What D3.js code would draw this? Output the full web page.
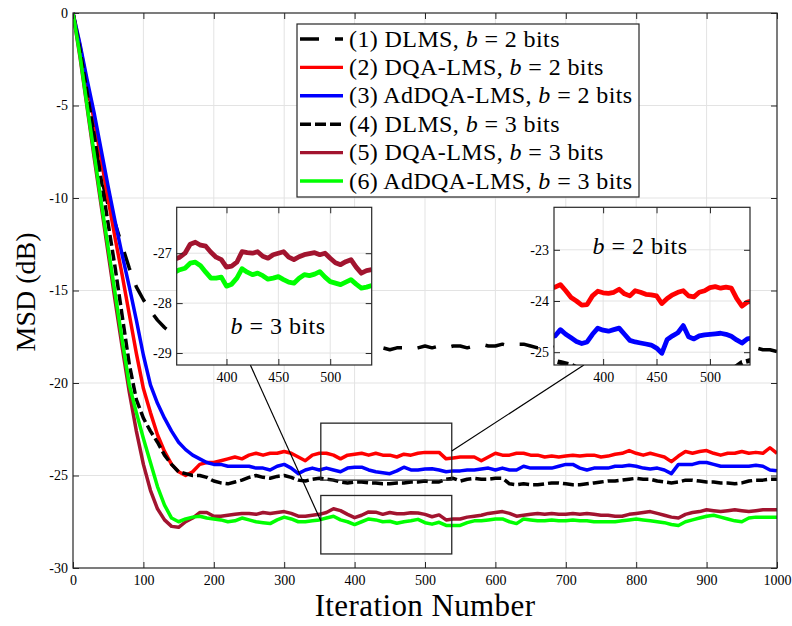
<!DOCTYPE html>
<html>
<head>
<meta charset="utf-8">
<script src="https://cdn.jsdelivr.net/npm/d3@7"></script>
<style>
  body { margin: 0; background: #fff; }
  text { font-family: "Liberation Serif", "DejaVu Serif", serif; fill: #000; }
</style>
</head>
<body>
<svg id="chart" width="792" height="626"></svg>
<script>
// iteration grid of the main curves (every 10 iterations)
const iter = d3.range(0, 1001, 10);

// (1) DLMS, b = 2
const dlms2 = [0, -2.1, -4.4, -6.7, -8.9, -10.4, -11.4, -12.6, -13.8, -14.8, -15.5, -16.1, -16.6, -17.0, -17.3, -17.5, -17.7, -17.8, -17.9, -18.0, -18.0,
  -18.1, -18.0, -18.1, -18.2, -18.1, -18.2, -18.1, -18.2, -18.3, -18.2,
  -18.1, -18.2, -18.2, -18.3, -18.2, -18.1, -18.2, -18.3, -18.2, -18.2,
  -18.3, -18.2, -18.2, -18.1, -18.2, -18.1, -18.1, -18.2, -18.1, -18.0,
  -18.1, -18.0, -18.1, -18.0, -18.0, -18.1, -18.0, -17.9, -18.0, -18.0,
  -17.9, -18.0, -17.9, -17.9, -18.0, -18.1, -18.0, -18.1, -18.0, -17.9,
  -18.0, -18.0, -17.9, -18.0, -18.0, -18.1, -18.0, -18.0, -18.1, -18.0,
  -18.1, -18.0, -18.1, -18.1, -18.0, -18.1, -18.2, -18.1, -18.1, -18.2,
  -18.1, -18.2, -18.2, -18.1, -18.2, -18.2, -18.1, -18.2, -18.2, -18.3];

// (2) DQA-LMS, b = 2
const dqa2 = [0, -1.8, -3.8, -5.8, -7.9, -10.1, -12.2, -14.2, -16.3, -18.4, -20.3, -21.6, -22.8, -23.7, -24.4, -24.8, -25.0, -24.8, -24.4, -24.3, -24.3,
  -24.2, -24.1, -24.0, -24.1, -23.9, -23.8, -23.9, -23.8, -23.8, -23.7,
  -23.8, -24.0, -24.2, -23.9, -23.8, -23.8, -23.9, -24.1, -23.9, -23.85,
  -23.8, -23.9, -23.8, -23.9, -23.9, -24.0, -23.85, -23.9, -23.8, -23.75,
  -23.75, -23.75, -24.1, -24.05, -24.0, -24.0, -24.0, -24.2, -24.0, -23.8,
  -23.9, -23.9, -23.8, -23.8, -23.9, -23.9, -24.0, -23.95, -24.0, -23.95,
  -23.9, -23.95, -23.9, -23.9, -24.0, -23.95, -23.85, -23.8, -23.65, -23.8,
  -23.9, -23.8, -23.9, -24.0, -24.25, -23.95, -23.7, -23.8, -23.7, -23.65,
  -23.8, -23.9, -23.8, -23.8, -23.7, -23.8, -23.75, -23.8, -23.5, -23.8];

// (3) AdDQA-LMS, b = 2
const adq2 = [0, -1.7, -3.6, -5.4, -7.4, -9.4, -11.3, -13.1, -14.8, -16.6, -18.5, -20.1, -21.1, -21.9, -22.6, -23.2, -23.6, -23.9, -24.1, -24.3, -24.4,
  -24.4, -24.5, -24.5, -24.5, -24.5, -24.6, -24.6, -24.7, -24.5, -24.4,
  -24.6, -24.9, -24.7, -24.6, -24.7, -24.6, -24.7, -24.8, -24.6, -24.55,
  -24.55, -24.7, -24.8, -24.85, -24.9, -24.75, -24.55, -24.7, -24.7, -24.65,
  -24.63, -24.7, -24.8, -24.75, -24.75, -24.7, -24.7, -24.65, -24.6, -24.7,
  -24.6, -24.7, -24.7, -24.5, -24.6, -24.6, -24.6, -24.6, -24.5, -24.4,
  -24.4, -24.6, -24.7, -24.6, -24.6, -24.6, -24.5, -24.5, -24.45, -24.5,
  -24.6, -24.65, -24.6, -24.7, -24.9, -24.4, -24.4, -24.4, -24.3, -24.3,
  -24.4, -24.5, -24.5, -24.5, -24.5, -24.5, -24.45, -24.5, -24.7, -24.75];

// (4) DLMS, b = 3
const dlms3 = [0, -2.0, -4.3, -6.6, -9.0, -11.4, -13.8, -16.4, -19.0, -20.9, -21.9, -22.6, -23.2, -23.9, -24.4, -24.8, -24.9, -25.0, -25.0, -25.1, -25.3,
  -25.4, -25.45, -25.35, -25.25, -25.1, -25.0, -25.1, -25.15, -25.05, -25.0,
  -25.1, -25.25, -25.3, -25.2, -25.15, -25.2, -25.25, -25.35, -25.4, -25.35,
  -25.35, -25.4, -25.4, -25.45, -25.45, -25.4, -25.4, -25.35, -25.35, -25.3,
  -25.35, -25.35, -25.2, -25.15, -25.3, -25.2, -25.15, -25.2, -25.2, -25.15,
  -25.15, -25.45, -25.5, -25.45, -25.5, -25.5, -25.45, -25.4, -25.4, -25.45,
  -25.5, -25.5, -25.45, -25.4, -25.35, -25.3, -25.3, -25.25, -25.2, -25.15,
  -25.2, -25.2, -25.3, -25.35, -25.4, -25.35, -25.25, -25.25, -25.3, -25.35,
  -25.35, -25.4, -25.4, -25.45, -25.4, -25.3, -25.25, -25.25, -25.2, -25.2];

// (5) DQA-LMS, b = 3
const dqa3 = [0, -2.4, -5.1, -7.8, -10.4, -13.0, -15.6, -18.1, -20.5, -22.6, -24.4, -25.8, -26.8, -27.4, -27.75, -27.8, -27.5, -27.3, -27.0, -27.0, -27.2,
  -27.2, -27.15, -27.1, -27.05, -27.05, -27.1, -27.0, -27.05, -27.0, -26.95,
  -27.05, -27.2, -27.2, -27.15, -27.1, -27.0, -26.8, -26.9, -27.1, -27.28,
  -27.15, -26.97, -26.98, -27.1, -27.0, -27.07, -27.07, -27.01, -27.03, -27.1,
  -27.23, -27.13, -27.4, -27.35, -27.35, -27.25, -27.2, -27.15, -27.05, -27.0,
  -26.95, -27.05, -27.2, -27.15, -27.1, -27.05, -27.1, -27.05, -27.1, -27.1,
  -27.05, -27.1, -27.05, -27.1, -27.15, -27.15, -27.2, -27.2, -27.1, -27.05,
  -27.0, -26.95, -27.05, -27.15, -27.25, -27.3, -27.1, -27.0, -26.95, -26.85,
  -26.9, -26.95, -26.9, -26.85, -26.9, -26.95, -26.9, -26.85, -26.85, -26.85];

// (6) AdDQA-LMS, b = 3
const adq3 = [0, -2.3, -5.0, -7.6, -10.2, -12.7, -15.2, -17.7, -20.1, -21.6, -23.0, -24.3, -25.6, -26.6, -27.3, -27.5, -27.35, -27.25, -27.2, -27.3, -27.35,
  -27.4, -27.5, -27.45, -27.3, -27.4, -27.5, -27.55, -27.6, -27.4, -27.25,
  -27.35, -27.5, -27.5, -27.45, -27.4, -27.3, -27.2, -27.4, -27.5, -27.65,
  -27.5, -27.35, -27.4, -27.5, -27.47, -27.58, -27.5, -27.45, -27.37, -27.55,
  -27.63, -27.53, -27.7, -27.7, -27.7, -27.55, -27.45, -27.45, -27.4, -27.35,
  -27.35, -27.5, -27.6, -27.35, -27.4, -27.45, -27.45, -27.4, -27.45, -27.45,
  -27.4, -27.45, -27.45, -27.5, -27.5, -27.5, -27.5, -27.45, -27.4, -27.35,
  -27.4, -27.45, -27.5, -27.55, -27.65, -27.7, -27.5, -27.4, -27.3, -27.2,
  -27.15, -27.25, -27.35, -27.45, -27.5, -27.3, -27.25, -27.25, -27.25, -27.25];

// finer samples shown in the two zoom insets (every 5 iterations, 350..540)
const zoomIter = d3.range(350, 541, 5);
const dqa3Zoom = [-27.12, -27.08, -27.0, -26.82, -26.78, -26.84, -26.86, -26.98, -27.08, -27.13, -27.28, -27.26, -27.18, -26.97, -26.99, -27.0, -26.97, -27.06, -27.1, -27.03,
  -27.0, -26.97, -27.08, -27.13, -27.07, -27.03, -27.01, -26.99, -27.03, -27.0, -27.1, -27.19, -27.23, -27.17, -27.13, -27.28, -27.4, -27.35, -27.33];
const adq3Zoom = [-27.38, -27.33, -27.3, -27.2, -27.18, -27.25, -27.38, -27.5, -27.5, -27.48, -27.66, -27.62, -27.5, -27.31, -27.38, -27.43, -27.4, -27.45, -27.52, -27.5,
  -27.47, -27.53, -27.58, -27.6, -27.5, -27.43, -27.45, -27.42, -27.37, -27.48, -27.57, -27.6, -27.63, -27.58, -27.53, -27.62, -27.7, -27.68, -27.65];
const dqa2Zoom = [-23.75, -23.73, -23.68, -23.8, -23.93, -24.0, -24.08, -24.07, -23.9, -23.81, -23.84, -23.85, -23.83, -23.77, -23.86, -23.9, -23.8, -23.83, -23.87, -23.88,
  -23.9, -24.05, -23.95, -23.88, -23.83, -23.8, -23.9, -23.92, -23.83, -23.8, -23.74, -23.72, -23.75, -23.73, -23.75, -23.95, -24.1, -24.02, -24.0];
const adq2Zoom = [-24.7, -24.68, -24.56, -24.65, -24.72, -24.79, -24.83, -24.8, -24.65, -24.53, -24.57, -24.59, -24.56, -24.53, -24.65, -24.77, -24.8, -24.82, -24.84, -24.86,
  -24.92, -25.02, -24.75, -24.68, -24.62, -24.48, -24.7, -24.74, -24.68, -24.66, -24.65, -24.64, -24.63, -24.65, -24.69, -24.76, -24.82, -24.74, -24.72];

// ticks and labels
const xTicks = [0, 100, 200, 300, 400, 500, 600, 700, 800, 900, 1000];
const yTicks = [0, -5, -10, -15, -20, -25, -30];
const insetXTicks = [400, 450, 500];
const inset1YTicks = [-27, -28, -29];
const inset2YTicks = [-23, -24, -25];
const legendNames = ["(1) DLMS, ", "(2) DQA-LMS, ", "(3) AdDQA-LMS, ", "(4) DLMS, ", "(5) DQA-LMS, ", "(6) AdDQA-LMS, "];
const legendBits = [2, 2, 2, 3, 3, 3];

const series = [
  {values: dlms2, color: "#000000", dash: "19,16"},
  {values: dqa2, color: "#ff0000", dash: null},
  {values: adq2, color: "#0000ff", dash: null},
  {values: dlms3, color: "#000000", dash: "11,4"},
  {values: dqa3, color: "#a2142f", dash: null},
  {values: adq3, color: "#00ff00", dash: null}
];

const svg = d3.select("#chart");
const axisColor = "#262626";
const gridColor = "#e3e3e3";

// main axes
const x = d3.scaleLinear().domain([0, 1000]).range([73, 777]);
const y = d3.scaleLinear().domain([-30, 0]).range([568, 13]);

svg.append("clipPath").attr("id", "clipMain")
  .append("rect").attr("x", 73).attr("y", 11).attr("width", 704).attr("height", 557);

function drawGrid(g, xs, ys, xt, yt) {
  g.selectAll(null).data(xt).enter().append("line")
    .attr("x1", d => xs(d)).attr("x2", d => xs(d))
    .attr("y1", ys.range()[0]).attr("y2", ys.range()[1])
    .attr("stroke", gridColor).attr("stroke-width", 1);
  g.selectAll(null).data(yt).enter().append("line")
    .attr("y1", d => ys(d)).attr("y2", d => ys(d))
    .attr("x1", xs.range()[0]).attr("x2", xs.range()[1])
    .attr("stroke", gridColor).attr("stroke-width", 1);
}

function drawAxes(g, xs, ys, xt, yt, fontSize) {
  const [x0, x1] = xs.range();
  const [y0, y1] = ys.range();
  const fmt = d => String(d);
  const bottom = g.append("g").attr("transform", `translate(0,${y0})`)
    .call(d3.axisBottom(xs).tickValues(xt).tickSizeInner(-6).tickSizeOuter(0).tickPadding(7).tickFormat(fmt));
  const left = g.append("g").attr("transform", `translate(${x0},0)`)
    .call(d3.axisLeft(ys).tickValues(yt).tickSizeInner(-6).tickSizeOuter(0).tickPadding(5).tickFormat(fmt));
  const top = g.append("g").attr("transform", `translate(0,${y1})`)
    .call(d3.axisTop(xs).tickValues(xt).tickSizeInner(-6).tickSizeOuter(0).tickFormat(""));
  const right = g.append("g").attr("transform", `translate(${x1},0)`)
    .call(d3.axisRight(ys).tickValues(yt).tickSizeInner(-6).tickSizeOuter(0).tickFormat(""));
  [bottom, left, top, right].forEach(a => {
    a.select(".domain").remove();
    a.selectAll("line").attr("stroke", axisColor).attr("stroke-width", 1);
    a.selectAll("text").attr("font-size", fontSize)
      .attr("font-family", "'Liberation Serif', serif").attr("fill", "#000");
  });
  g.append("rect").attr("x", x0).attr("y", y1).attr("width", x1 - x0).attr("height", y0 - y1)
    .attr("fill", "none").attr("stroke", axisColor).attr("stroke-width", 1.2);
}

function drawLine(g, xsData, ysData, xs, ys, s, width, clip) {
  const line = d3.line().x((d, i) => xs(xsData[i])).y(d => ys(d));
  g.append("path").datum(ysData)
    .attr("clip-path", `url(#${clip})`)
    .attr("fill", "none")
    .attr("stroke", s.color)
    .attr("stroke-width", width)
    .attr("stroke-linejoin", "round")
    .attr("stroke-dasharray", s.dash)
    .attr("d", line);
}

const main = svg.append("g");
drawGrid(main, x, y, xTicks.slice(1, -1), yTicks.slice(1, -1));
series.forEach(s => drawLine(main, iter, s.values, x, y, s, 3.5, "clipMain"));
drawAxes(main, x, y, xTicks, yTicks, 14);

// axis titles
svg.append("text").attr("x", 425).attr("y", 616).attr("text-anchor", "middle")
  .attr("font-size", 31).attr("letter-spacing", 0.4).text("Iteration Number");
svg.append("text").attr("transform", "translate(35,292) rotate(-90)").attr("text-anchor", "middle")
  .attr("font-size", 28).text("MSD (dB)");

// zoomed regions
const zoomX = [352, 538];
const zoomUpper = [-25.25, -22.17];
const zoomLower = [-29.24, -26.08];
[zoomUpper, zoomLower].forEach(r => {
  svg.append("rect")
    .attr("x", x(zoomX[0])).attr("y", y(r[1]))
    .attr("width", x(zoomX[1]) - x(zoomX[0])).attr("height", y(r[0]) - y(r[1]))
    .attr("fill", "none").attr("stroke", axisColor).attr("stroke-width", 1.3);
});

// insets
const inset1 = {
  x: d3.scaleLinear().domain([352, 540]).range([176.7, 371.7]),
  y: d3.scaleLinear().domain(zoomLower).range([365, 207.3]),
  yt: inset1YTicks, id: "clipIn1"
};
const inset2 = {
  x: d3.scaleLinear().domain([354, 537.5]).range([554, 750]),
  y: d3.scaleLinear().domain(zoomUpper).range([365, 207.3]),
  yt: inset2YTicks, id: "clipIn2"
};

// connector lines
svg.append("line")
  .attr("x1", x(352)).attr("y1", y(-27.45))
  .attr("x2", inset1.x(423)).attr("y2", inset1.y.range()[0])
  .attr("stroke", "#000").attr("stroke-width", 1.2);
svg.append("line")
  .attr("x1", x(538)).attr("y1", y(-23.68))
  .attr("x2", inset2.x(382)).attr("y2", inset2.y.range()[0])
  .attr("stroke", "#000").attr("stroke-width", 1.2);

[inset1, inset2].forEach(ins => {
  const [x0, x1] = ins.x.range();
  const [y0, y1] = ins.y.range();
  const g = svg.append("g");
  svg.append("clipPath").attr("id", ins.id)
    .append("rect").attr("x", x0).attr("y", y1).attr("width", x1 - x0).attr("height", y0 - y1);
  g.append("rect").attr("x", x0).attr("y", y1).attr("width", x1 - x0).attr("height", y0 - y1).attr("fill", "#fff");
  drawGrid(g, ins.x, ins.y, insetXTicks, ins.yt);
  ins.g = g;
});

drawLine(inset1.g, zoomIter, dqa3Zoom, inset1.x, inset1.y, series[4], 4.8, inset1.id);
drawLine(inset1.g, zoomIter, adq3Zoom, inset1.x, inset1.y, series[5], 4.8, inset1.id);
drawLine(inset2.g, iter, dlms3, inset2.x, inset2.y, series[3], 4.8, inset2.id);
drawLine(inset2.g, zoomIter, dqa2Zoom, inset2.x, inset2.y, series[1], 4.8, inset2.id);
drawLine(inset2.g, zoomIter, adq2Zoom, inset2.x, inset2.y, series[2], 4.8, inset2.id);

[inset1, inset2].forEach(ins => drawAxes(ins.g, ins.x, ins.y, insetXTicks, ins.yt, 14));

function bitsLabel(sel, prefix, bits) {
  sel.append("tspan").text(prefix);
  sel.append("tspan").attr("font-style", "italic").text("b");
  sel.append("tspan").text(` = ${bits} bits`);
}
inset1.g.append("text").attr("x", 278).attr("y", 334).attr("text-anchor", "middle")
  .attr("font-size", 24).attr("letter-spacing", 0.5).call(bitsLabel, "", 3);
inset2.g.append("text").attr("x", 640).attr("y", 254).attr("text-anchor", "middle")
  .attr("font-size", 24).attr("letter-spacing", 0.5).call(bitsLabel, "", 2);

// legend
const legend = svg.append("g");
legend.append("rect").attr("x", 297).attr("y", 24).attr("width", 342).attr("height", 173)
  .attr("fill", "#fff").attr("stroke", axisColor).attr("stroke-width", 1.2);
const rows = legend.selectAll("g.row").data(series).enter().append("g")
  .attr("transform", (d, i) => `translate(0,${39 + i * 28.4})`);
rows.append("line").attr("x1", 300).attr("x2", 343)
  .attr("stroke", d => d.color).attr("stroke-width", 3.4)
  .attr("stroke-dasharray", d => d.dash);
rows.append("text").attr("x", 349).attr("y", 7.5).attr("font-size", 24).attr("letter-spacing", 0.4)
  .each(function(d, i) { d3.select(this).call(bitsLabel, legendNames[i], legendBits[i]); });
</script>
</body>
</html>
